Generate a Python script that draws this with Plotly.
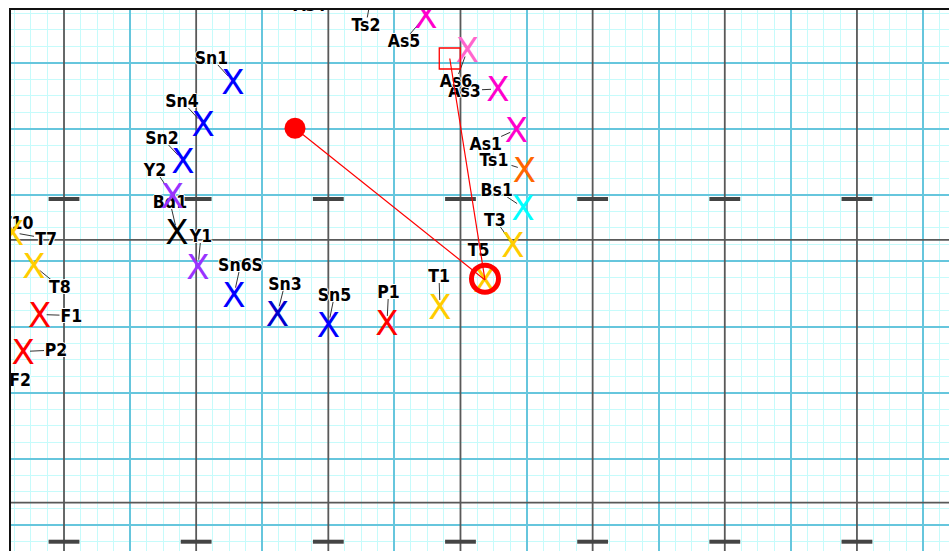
import math
import plotly.graph_objects as go

# ---------------- data (chart units) ----------------
names = ["Sn1", "Sn4", "Sn2", "Y2", "Bd1", "Y1", "Sn6S", "Sn3", "Sn5", "P1",
         "T1", "T5", "T3", "Bs1", "Ts1", "As1", "As3", "As6", "As5",
         "T7", "T8", "F1", "P2", "T10", "F2", "Ts2", "As4"]
point_x = [25.57, 21.04, 18.01, 16.42, 17.10, 20.28, 25.73, 32.31, 40.03, 48.88,
           56.90, 63.71, 67.95, 69.45, 69.69, 68.48, 65.68, 61.06, 54.78,
           -7.76, -4.54, -3.68, -6.20, -11.2, -10.9, 46.6, 42.5]
point_y = [67.16, 60.72, 55.19, 49.89, 44.37, 39.11, 34.90, 32.10, 30.36, 30.59,
           33.01, 37.10, 42.47, 48.08, 53.83, 59.89, 66.02, 71.93, 77.15,
           44.29, 39.25, 31.87, 26.27, 46.9, 23.5, 80.7, 82.5]
label_x = [22.32, 17.86, 14.83, 13.77, 16.04, 20.73, 26.71, 33.44, 40.94, 49.11,
           56.75, 62.73, 65.22, 65.48, 65.07, 63.82, 60.61, 59.32, 51.45,
           -2.72, -0.61, 1.13, -1.21, -7.11, -6.66, 45.70, 37.2]
label_y = [70.72, 64.20, 58.60, 53.83, 48.91, 43.76, 39.37, 36.57, 34.83, 35.28,
           37.70, 41.64, 46.26, 50.73, 55.27, 57.77, 65.79, 67.23, 73.29,
           43.38, 36.04, 31.72, 26.50, 45.73, 21.96, 75.79, 78.74]
colors = ["#0000ff", "#0000ff", "#0000ff", "#9933ff", "#000000", "#9933ff", "#0000ff",
          "#0000cc", "#0000ff", "#ff0000", "#ffcc00", "#ffcc00", "#ffcc00", "#00ffff",
          "#ff6600", "#ff00cc", "#ff00cc", "#ff66cc", "#ff00cc", "#ffcc00", "#ffcc00",
          "#ff0000", "#ff0000", "#ffcc00", "#ff0000", "#ff6600", "#ff00cc"]

origin_circle = (34.96, 60.07)   # filled red circle
origin_square = (58.38, 70.64)   # open red square
target_name = "T5"

# grid structure (chart units)
x_range = [-8.021, 133.93]
y_range = [-3.937, 77.98]
dark_v = [0, 20, 40, 60, 80, 100, 120]
dark_h = [43.16, 3.38]
dash_rows = [49.36, -2.53]

W, H = 949, 551
ML, MT = 11, 10
SX = (W - ML) / (x_range[1] - x_range[0])
SY = (H - MT) / (y_range[1] - y_range[0])

# glyph baseline compensation (pixels -> chart units)
X_GLYPH_SHIFT = 4.0 / SY
LABEL_SHIFT = 2.0 / SY

fig = go.Figure()

# dark major grid lines
gx, gy = [], []
for v in dark_v:
    gx += [v, v, None]
    gy += [-20, 100, None]
for h in dark_h:
    gx += [-20, 200, None]
    gy += [h, h, None]
fig.add_trace(go.Scatter(x=gx, y=gy, mode="lines", line=dict(color="#595959", width=1.8),
                         hoverinfo="skip", showlegend=False))

# dash marks
dx_, dy_ = [], []
for r in dash_rows:
    for v in dark_v:
        dx_.append(v)
        dy_.append(r)
fig.add_trace(go.Scatter(x=dx_, y=dy_, mode="markers",
                         marker=dict(symbol="line-ew", size=22, line=dict(color="#444444", width=4)),
                         hoverinfo="skip", showlegend=False))

# leader lines (label box edge -> point)
lx, ly = [], []
for n, px, py, tx, ty in zip(names, point_x, point_y, label_x, label_y):
    if n == target_name:
        continue
    ddx = (px - tx) * SX
    ddy = (py - ty) * SY
    dist = math.hypot(ddx, ddy)
    if dist < 1:
        continue
    hw = len(n) * 5.5 + 1
    hh = 7
    t = min(hw / abs(ddx) if abs(ddx) > 1e-9 else 1e9, hh / abs(ddy) if abs(ddy) > 1e-9 else 1e9)
    t = min(t, 1.0)
    sx = tx + ddx * t / SX
    sy = ty + ddy * t / SY
    shrink = max(0.0, 1 - 7 / dist)
    ex = tx + ddx * shrink / SX
    ey = ty + ddy * shrink / SY
    lx += [sx, ex, None]
    ly += [sy, ey, None]
fig.add_trace(go.Scatter(x=lx, y=ly, mode="lines", line=dict(color="#333333", width=1),
                         hoverinfo="skip", showlegend=False))

# labels
fig.add_trace(go.Scatter(
    x=label_x, y=[v - LABEL_SHIFT for v in label_y], mode="text", text=names,
    textposition="middle center",
    textfont=dict(family="DejaVu Sans Condensed, DejaVu Sans", size=17.5, color="#000000",
                  weight="bold",
                  shadow="1px 0px 0px white, -1px 0px 0px white, 0px 1px 0px white, 0px -1px 0px white"),
    hoverinfo="skip", showlegend=False))

# X marks
fig.add_trace(go.Scatter(
    x=point_x, y=[v - X_GLYPH_SHIFT for v in point_y], mode="text", text=["X"] * len(names),
    textposition="middle center",
    textfont=dict(family="DejaVu Sans", size=34, color=colors),
    hovertext=names, hoverinfo="text", showlegend=False))

# red connections to target
ti = names.index(target_name)
tx0, ty0 = point_x[ti], point_y[ti]
fig.add_trace(go.Scatter(
    x=[origin_circle[0], tx0, None, origin_square[0], tx0],
    y=[origin_circle[1], ty0, None, origin_square[1], ty0],
    mode="lines", line=dict(color="#ff0000", width=1.2), hoverinfo="skip", showlegend=False))
fig.add_trace(go.Scatter(x=[origin_circle[0]], y=[origin_circle[1]], mode="markers",
                         marker=dict(symbol="circle", size=21, color="#ff0000"),
                         hoverinfo="skip", showlegend=False))
fig.add_trace(go.Scatter(x=[origin_square[0]], y=[origin_square[1]], mode="markers",
                         marker=dict(symbol="square-open", size=21, color="#ff0000",
                                     line=dict(color="#ff0000", width=1.3)),
                         hoverinfo="skip", showlegend=False))
fig.add_trace(go.Scatter(x=[tx0], y=[ty0 + 0.2], mode="markers",
                         marker=dict(symbol="circle-open", size=27, color="#ff0000",
                                     line=dict(color="#ff0000", width=5)),
                         hoverinfo="skip", showlegend=False))

fig.update_layout(
    width=W, height=H,
    margin=dict(l=ML, r=0, t=MT, b=0, pad=0),
    paper_bgcolor="white", plot_bgcolor="white",
    showlegend=False,
    xaxis=dict(range=x_range, side="top", showline=True, linecolor="#111111", linewidth=1.5,
               showticklabels=False, ticks="", zeroline=False, automargin=False,
               showgrid=True, gridcolor="#66c6dd", gridwidth=1.6,
               tickmode="linear", tick0=10, dtick=20,
               minor=dict(showgrid=True, gridcolor="#c6fbfb", gridwidth=1.2, tick0=0, dtick=2.5, ticks="")),
    yaxis=dict(range=y_range, showline=True, linecolor="#111111", linewidth=1.5,
               showticklabels=False, ticks="", zeroline=False, automargin=False,
               showgrid=True, gridcolor="#66c6dd", gridwidth=1.6,
               tickmode="linear", tick0=0, dtick=10,
               minor=dict(showgrid=True, gridcolor="#c6fbfb", gridwidth=1.2, tick0=0, dtick=2.5, ticks="")),
)

fig.write_html("out.html", config={"displayModeBar": False},
               post_script="document.body.style.margin='0px';document.body.style.overflow='hidden';")
